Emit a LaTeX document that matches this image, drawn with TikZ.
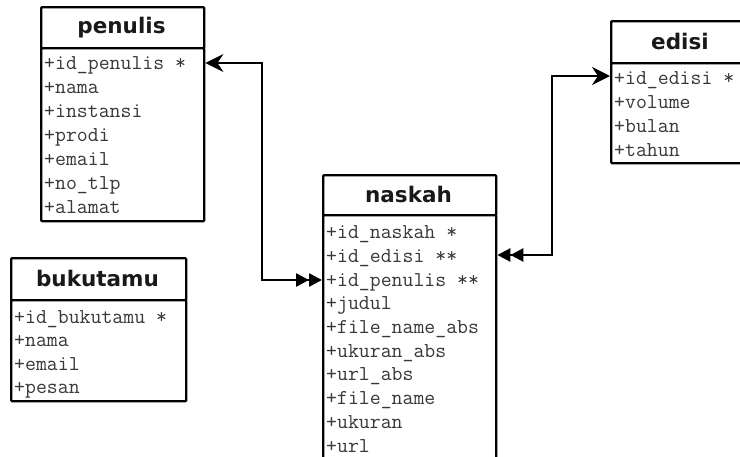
\documentclass[tikz,border=0pt]{standalone}
\usepackage{fontspec}
\newfontfamily\hdfont{DejaVu Sans}
\usetikzlibrary{arrows.meta}
\definecolor{rowtext}{HTML}{383838}
\tikzset{
  box/.style={draw=black, line width=2.4pt, rounded corners=1pt, anchor=north west, inner sep=0pt, fill=white},
  hdtext/.style={inner sep=0pt, font=\hdfont\bfseries\fontsize{21.5}{21.5}\selectfont, text=black!90},
  row/.style={anchor=west, inner sep=0pt, text height=14pt, text depth=4pt, font=\ttfamily\fontsize{21.2}{21.2}\selectfont, text=rowtext},
  conn/.style={line width=2.6pt, draw=black},
}
\begin{document}
\begin{tikzpicture}[x=1pt,y=-1pt]
\useasboundingbox (0,0) rectangle (740,456);

% ---------- penulis ----------
\node[box, minimum width=163pt, minimum height=41pt] (penH) at (40,6) {};
\node[box, minimum width=163pt, minimum height=173pt] (penB) at (40,47) {};
\node[hdtext] (penT) at (121.5,28) {penulis};
\node[row] (p1) at (44,64) {+id\_penulis *};
\node[row] (p2) at (44,88) {+nama};
\node[row] (p3) at (44,112) {+instansi};
\node[row] (p4) at (44,136) {+prodi};
\node[row] (p5) at (44,160) {+email};
\node[row] (p6) at (44,184) {+no\_tlp};
\node[row] (p7) at (44,208) {+alamat};

% ---------- bukutamu ----------
\node[box, minimum width=175pt, minimum height=42pt] (bukH) at (10,257) {};
\node[box, minimum width=175pt, minimum height=101pt] (bukB) at (10,299) {};
\node[hdtext] (bukT) at (97.5,278) {bukutamu};
\node[row] (b1) at (14,318) {+id\_bukutamu *};
\node[row] (b2) at (14,341.5) {+nama};
\node[row] (b3) at (14,365) {+email};
\node[row] (b4) at (14,388.5) {+pesan};

% ---------- naskah ----------
\node[box, minimum width=173pt, minimum height=40pt] (nasH) at (322,174) {};
\node[box, minimum width=173pt, minimum height=250pt] (nasB) at (322,214) {};
\node[hdtext] (nasT) at (408.5,194) {naskah};
\node[row] (n1) at (326,233) {+id\_naskah *};
\node[row] (n2) at (326,257) {+id\_edisi **};
\node[row] (n3) at (326,281) {+id\_penulis **};
\node[row] (n4) at (326,304.5) {+judul};
\node[row] (n5) at (326,328.5) {+file\_name\_abs};
\node[row] (n6) at (326,352) {+ukuran\_abs};
\node[row] (n7) at (326,375.5) {+url\_abs};
\node[row] (n8) at (326,399.5) {+file\_name};
\node[row] (n9) at (326,423) {+ukuran};
\node[row] (n10) at (326,447) {+url};

% ---------- edisi ----------
\node[box, minimum width=140pt, minimum height=42pt] (ediH) at (610,20) {};
\node[box, minimum width=140pt, minimum height=100pt] (ediB) at (610,62) {};
\node[hdtext] (ediT) at (680,41) {edisi};
\node[row] (e1) at (614,79) {+id\_edisi *};
\node[row] (e2) at (614,103) {+volume};
\node[row] (e3) at (614,127) {+bulan};
\node[row] (e4) at (614,151) {+tahun};

% ---------- connectors ----------
\coordinate (bendA) at (262,0);
\coordinate (bendB) at (552,0);
\draw[conn, {Stealth[length=18pt,width=18pt,inset=6pt]}-{Triangle[length=13pt,width=13pt] Triangle[length=13pt,width=13pt]}]
  (penB.east |- 0,63) -- (bendA |- 0,63) |- (nasB.west |- 0,280);
\draw[conn, {Triangle[length=13pt,width=13pt] Triangle[length=13pt,width=13pt]}-{Stealth[length=18pt,width=18pt,inset=6pt]}]
  (nasB.east |- 0,255) -- (bendB |- 0,255) |- (ediB.west |- 0,76);
\end{tikzpicture}
\end{document}
